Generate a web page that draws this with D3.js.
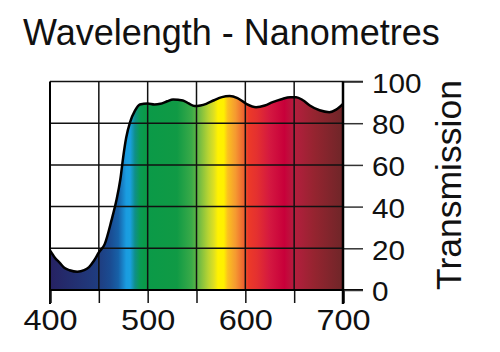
<!DOCTYPE html>
<html>
<head>
<meta charset="utf-8">
<script src="https://cdn.jsdelivr.net/npm/d3@7"></script>
<style>
  body { margin: 0; background: #fff; }
  svg { display: block; font-family: "Liberation Sans", Arial, sans-serif; }
</style>
</head>
<body>
<svg width="500" height="352"></svg>
<script>
// wavelength (nm) and transmission (%)
var wavelengths = [400, 405, 410, 415, 420, 428, 435, 440, 445, 450, 456, 463, 468, 472, 475, 478, 482, 487, 492, 500,
  507, 513, 520, 526, 536, 542, 548, 554, 560, 568, 576, 584, 592, 601, 611, 620, 628, 637, 646, 652,
  659, 666, 676, 686, 693, 700];
var transmission = [19, 15.5, 13, 10.5, 9.5, 8.8, 9.5, 11, 14, 18, 22, 33.5, 43, 53, 64, 73, 80.5, 86, 89, 89.5,
  89, 89.3, 90.5, 91.4, 90.9, 89.5, 88.2, 88.5, 89.3, 91, 92.5, 93, 92, 89.3, 87.7, 88.5, 90.1, 91.5, 92.5, 92.5,
  91, 88.5, 86.2, 85.3, 86.5, 89.3];

var xTicks = [400, 450, 500, 550, 600, 650, 700];
var yTicks = [0, 20, 40, 60, 80, 100];

// spectrum colours along the wavelength axis
var spectrumNm = [400, 450, 462, 470, 478, 482, 487, 492, 497, 530, 545, 552, 562, 568, 572, 578, 582, 590, 598, 603, 612, 625, 640, 650, 670, 700];
var spectrumColor = ["#262262", "#1f3d80", "#1a4c92", "#1761a8", "#1a9ce0", "#1aa0e0", "#0f8f8a", "#0a9a55", "#0a9a48",
  "#109a45", "#3aaa48", "#6ab845", "#b8d432", "#e0e020", "#fff200", "#fff000", "#fbc020", "#f59a30", "#ee6530",
  "#ec3a28", "#e43030", "#d41840", "#c8003a", "#b51e3e", "#962430", "#6e2628"];

var data = wavelengths.map(function(w, i) { return { nm: w, t: transmission[i] }; });

var svg = d3.select("svg");

var x = d3.scaleLinear().domain([400, 700]).range([50, 343]);
var y = d3.scaleLinear().domain([0, 100]).range([290, 81.5]);

var grad = svg.append("defs").append("linearGradient")
  .attr("id", "spectrum")
  .attr("gradientUnits", "userSpaceOnUse")
  .attr("x1", x(400)).attr("x2", x(700))
  .attr("y1", 0).attr("y2", 0);

grad.selectAll("stop")
  .data(spectrumNm)
  .enter().append("stop")
  .attr("offset", function(d) { return (d - 400) / 300; })
  .attr("stop-color", function(d, i) { return spectrumColor[i]; });

var area = d3.area()
  .x(function(d) { return x(d.nm); })
  .y0(y(0))
  .y1(function(d) { return y(d.t); })
  .curve(d3.curveMonotoneX);

var line = d3.line()
  .x(function(d) { return x(d.nm); })
  .y(function(d) { return y(d.t); })
  .curve(d3.curveMonotoneX);

svg.append("path")
  .datum(data)
  .attr("d", area)
  .attr("fill", "url(#spectrum)");

// grid
svg.append("g")
  .selectAll("line")
  .data(xTicks.slice(1, -1))
  .enter().append("line")
  .attr("x1", x).attr("x2", x)
  .attr("y1", y(100)).attr("y2", y(0))
  .attr("stroke", "#111")
  .attr("stroke-width", 1.5);

svg.append("g")
  .selectAll("line")
  .data(yTicks.slice(1, -1))
  .enter().append("line")
  .attr("x1", x(400)).attr("x2", x(700))
  .attr("y1", y).attr("y2", y)
  .attr("stroke", "#111")
  .attr("stroke-width", 1.5);

// top border
svg.append("line")
  .attr("x1", x(400)).attr("x2", x(700) + 20)
  .attr("y1", y(100)).attr("y2", y(100))
  .attr("stroke", "#111")
  .attr("stroke-width", 1.5);

svg.append("path")
  .datum(data)
  .attr("d", line)
  .attr("fill", "none")
  .attr("stroke", "#000")
  .attr("stroke-width", 2.5);

// left border
svg.append("line")
  .attr("x1", x(400)).attr("x2", x(400))
  .attr("y1", y(100)).attr("y2", y(0) + 14)
  .attr("stroke", "#000")
  .attr("stroke-width", 2);

// bottom axis
var xAxis = svg.append("g")
  .attr("transform", "translate(0," + y(0) + ")")
  .call(d3.axisBottom(x)
    .tickValues(xTicks)
    .tickSize(13)
    .tickPadding(6)
    .tickFormat(function(d) { return d % 100 === 0 ? d : ""; }));

xAxis.select(".domain").remove();
xAxis.append("line")
  .attr("x1", x(400)).attr("x2", x(700) + 20)
  .attr("stroke", "#000")
  .attr("stroke-width", 2);
xAxis.selectAll(".tick line")
  .attr("stroke", "#111")
  .attr("stroke-width", function(d) { return d === 400 || d === 700 ? 2.5 : 1.5; });
xAxis.selectAll(".tick text")
  .attr("fill", "#111")
  .attr("font-size", 29)
  .attr("font-family", "'Liberation Sans', Arial, sans-serif")
  .attr("dy", "0.71em")
  .attr("transform", "scale(1.12,1)");

// right axis
var yAxis = svg.append("g")
  .attr("transform", "translate(" + x(700) + ",0)")
  .call(d3.axisRight(y)
    .tickValues(yTicks)
    .tickSize(20)
    .tickPadding(9));

yAxis.select(".domain").remove();
yAxis.append("line")
  .attr("y1", y(100)).attr("y2", y(0) + 14)
  .attr("stroke", "#000")
  .attr("stroke-width", 2.5);
yAxis.selectAll(".tick line")
  .attr("stroke", "#333")
  .attr("stroke-width", 1.5);
yAxis.selectAll(".tick text")
  .attr("fill", "#111")
  .attr("font-size", 27)
  .attr("font-family", "'Liberation Sans', Arial, sans-serif")
  .attr("x", 0)
  .attr("dy", "0.36em")
  .attr("transform", "translate(29,1) scale(1.1,1)");

svg.append("text")
  .attr("x", 23)
  .attr("y", 45)
  .attr("font-size", 36)
  .attr("fill", "#111")
  .text("Wavelength - Nanometres");

svg.append("text")
  .attr("transform", "translate(461,185) rotate(-90)")
  .attr("text-anchor", "middle")
  .attr("font-size", 35.5)
  .attr("fill", "#111")
  .text("Transmission");
</script>
</body>
</html>
